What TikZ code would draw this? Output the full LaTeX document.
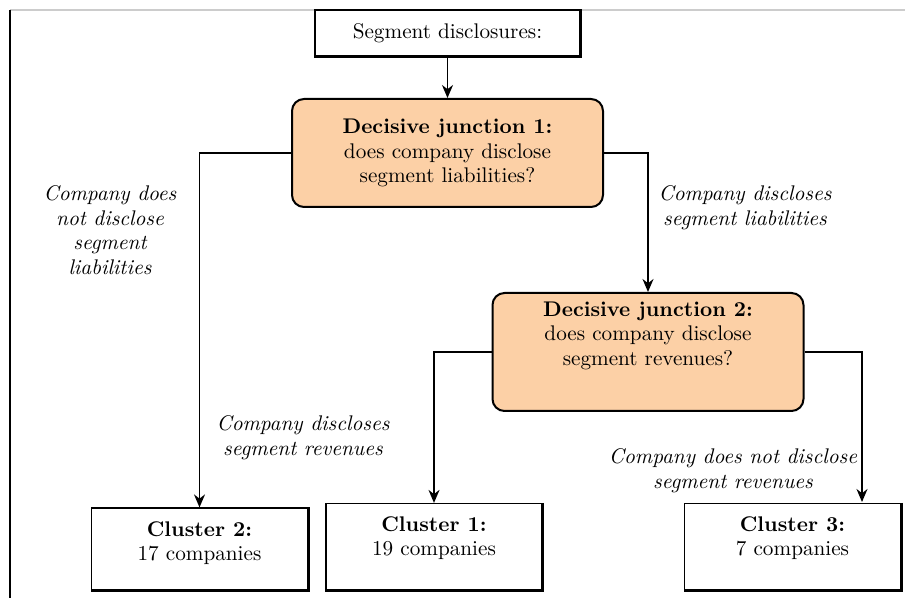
\documentclass[tikz,border=0pt]{standalone}
\usepackage{tikz}
\usetikzlibrary{
  positioning,
  arrows.meta,
  }
\definecolor{junctionfill}{RGB}{252,208,166}
\newcommand{\diagfont}{\fontsize{10.6}{12.3}\selectfont}

\begin{document}
\begin{tikzpicture}[x=0.5pt,y=-0.5pt,
    every node/.style={font=\diagfont},
    plainbox/.style={draw, line width=0.6pt, inner sep=0pt},
    cluster/.style={plainbox, minimum width=108pt, minimum height=43pt},
    junction/.style={draw, line width=1pt, rounded corners=6pt, fill=junctionfill,
      align=center, minimum width=155.5pt, minimum height=54pt},
    branch/.style={align=center, font=\diagfont\itshape},
    arr/.style={-{Stealth[length=6.5pt,width=5.5pt]}, line width=0.8pt}]
                        \useasboundingbox (0,0) rectangle (905,598);
                        \draw[gray!40, line width=0.6pt] (10,10) -- (905,10);
                        \draw[line width=1.2pt] (10,10) -- (10,598);

                        \node[plainbox, minimum width=132.5pt, minimum height=23pt] (top) at (447.5,33) {Segment disclosures:};
                        \node[junction] (j1) at (447.5,153) {\textbf{Decisive junction 1:}\\does company disclose\\segment liabilities?};
                        \node[junction, minimum height=59pt] (j2) at (648,352) {\textbf{Decisive junction 2:}\\does company disclose\\segment revenues?\\[6pt]};
                        \node[cluster, minimum height=41pt] (c2) at (199.5,549) {};
                        \node[cluster] (c1) at (434,546.5) {};
                        \node[cluster] (c3) at (792.5,546.5) {};
                        \node[align=center] (c2text) at (199.5,543) {\textbf{Cluster 2:}\\17 companies};
                        \node[align=center] (c1text) at (434,538) {\textbf{Cluster 1:}\\19 companies};
                        \node[align=center] (c3text) at (792.5,538) {\textbf{Cluster 3:}\\7 companies};
                        \coordinate (c3in) at (862,502);

                        \node[branch] (noliab) at (110,230) {Company does\\not disclose\\segment\\liabilities};
                        \node[branch] (liab) at (745,208) {Company discloses\\segment liabilities};
                        \node[branch] (rev) at (303,438) {Company discloses\\segment revenues};
                        \node[branch] (norev) at (733,471) {Company does not disclose\\segment revenues};

                        \foreach \n in {top,c1,c2,c3}
                            \draw[line width=1.5pt] (\n.north east) -- (\n.south east) -- (\n.south west);
                        \draw[arr] (top) -- (j1);
                        \foreach \from\to in {j1.west/c2,j1.east/j2,j2.west/c1,j2.east/c3in}
                            \draw[arr] (\from) -| (\to);
                    \end{tikzpicture}
\end{document}
